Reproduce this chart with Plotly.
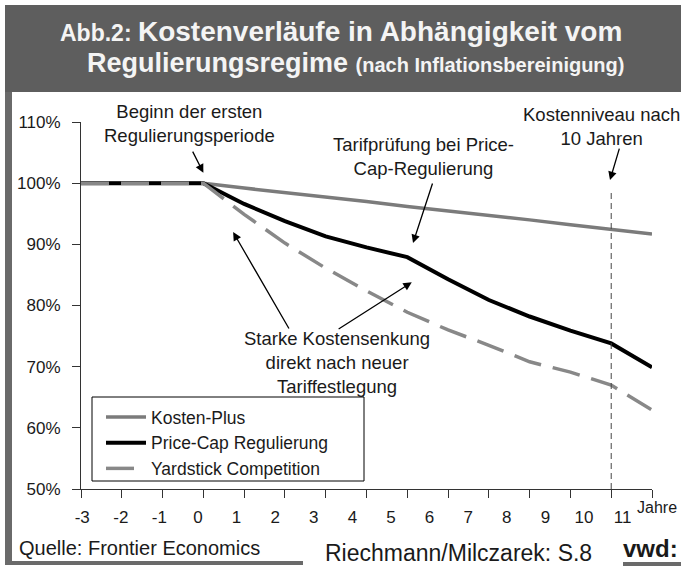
import plotly.graph_objects as go

# ---------------- data ----------------
years = list(range(-3, 12))
tick_text = [str(v) for v in years]
kosten_plus = [100, 100, 100, 100, 99.2, 98.5, 97.7, 97.0, 96.2, 95.5, 94.7, 94.0, 93.2, 92.5, 91.7]
price_cap = [100, 100, 100, 100, 96.6, 93.8, 91.3, 89.5, 87.9, 84.3, 80.9, 78.2, 75.9, 73.8, 69.9]
yardstick = [100, 100, 100, 100, 94.9, 90.2, 86.1, 82.4, 78.9, 76.0, 73.5, 70.8, 69.1, 67.0, 62.9]
y_ticks = [50, 60, 70, 80, 90, 100, 110]
y_tick_text = [f"{v}%" for v in y_ticks]
series_names = ["Kosten-Plus", "Price-Cap Regulierung", "Yardstick Competition"]
marker_year = 10
marker_top = 98.4

# ---------------- geometry helpers (pixel -> paper) ----------------
W, H = 681, 566
L, R, T, B = 81, 652, 122, 489


def px(x):
    return (x - L) / (R - L)


def py(y):
    return (B - y) / (B - T)


FONT = "Liberation Sans, Arial, Helvetica, sans-serif"
TXT = "#1a1a1a"

fig = go.Figure()
fig.add_trace(go.Scatter(x=years, y=kosten_plus, name=series_names[0], mode="lines",
                         line=dict(color="#7b7b7b", width=3.5), legendgroup="a"))
fig.add_trace(go.Scatter(x=years, y=price_cap, name=series_names[1], mode="lines",
                         line=dict(color="#000000", width=4), legendgroup="b"))
fig.add_trace(go.Scatter(x=years, y=yardstick, name=series_names[2], mode="lines",
                         line=dict(color="#888888", width=3.5, dash="28px,12px"), legendgroup="c"))
# empty helper trace to activate the label axis
fig.add_trace(go.Scatter(x=[], y=[], xaxis="x2", showlegend=False, hoverinfo="skip"))

shapes = [
    # title bar
    dict(type="rect", xref="paper", yref="paper", x0=px(5), x1=px(681), y0=py(92), y1=py(5),
         fillcolor="#5e5e5e", line=dict(width=0), layer="below"),
    # left frame
    dict(type="rect", xref="paper", yref="paper", x0=px(5), x1=px(12), y0=py(563), y1=py(92),
         fillcolor="#6a6a6a", line=dict(width=0), layer="below"),
    # bottom frame (left part)
    dict(type="rect", xref="paper", yref="paper", x0=px(5), x1=px(303), y0=py(565), y1=py(561),
         fillcolor="#6a6a6a", line=dict(width=0), layer="below"),
    # vwd underline
    dict(type="rect", xref="paper", yref="paper", x0=px(623), x1=px(681), y0=py(566), y1=py(562),
         fillcolor="#6a6a6a", line=dict(width=0), layer="below"),
    # legend frame
    dict(type="rect", xref="paper", yref="paper", x0=px(92), x1=px(364), y0=py(481), y1=py(397),
         fillcolor="#ffffff", line=dict(width=1, color="#000000"), layer="below"),
    # marker line after 10 years
    dict(type="line", xref="x", yref="y", x0=marker_year, x1=marker_year, y0=y_ticks[0], y1=marker_top,
         line=dict(color="#444444", width=1, dash="6px,4px")),
]

annotations = []


def text_ann(text, x, y, size, xanchor="center", color=TXT, bold=False, yanchor="middle"):
    annotations.append(dict(text=text, xref="paper", yref="paper", x=px(x), y=py(y), showarrow=False,
                            xanchor=xanchor, yanchor=yanchor, align="center",
                            font=dict(family=FONT, size=size, color=color,
                                      weight="bold" if bold else "normal")))


def arrow(hx, hy, tx, ty):
    annotations.append(dict(text="", x=hx, y=hy, ax=tx, ay=ty, xref="x", yref="y", axref="x", ayref="y",
                            showarrow=True, arrowhead=2, arrowsize=1.3, arrowwidth=1.3,
                            arrowcolor="#000000", standoff=0, startstandoff=0))


# title
text_ann("<span style='font-size:23px'>Abb.2: </span>Kostenverläufe in Abhängigkeit vom",
         341, 31, 28, color="#f4f4f4", bold=True)
text_ann("Regulierungsregime <span style='font-size:20px'>(nach Inflationsbereinigung)</span>",
         355, 63, 27, color="#f4f4f4", bold=True)

# callouts
text_ann("Beginn der ersten<br>Regulierungsperiode", 189, 124, 18.5)
text_ann("Tarifprüfung bei Price-<br>Cap-Regulierung", 423, 156, 18.5)
text_ann("Kostenniveau nach<br>10 Jahren", 601, 127, 18.5)
text_ann("Starke Kostensenkung<br>direkt nach neuer<br>Tariffestlegung", 337, 362, 18.5)

arrow(0.0, 101.7, -0.28, 105.4)
arrow(5.14, 90.2, 5.63, 100.2)
arrow(9.97, 100.5, 10.21, 105.9)
arrow(0.73, 92.0, 2.12, 76.0)
arrow(5.11, 83.8, 3.28, 76.0)

# axis unit and footer
text_ann("Jahre", 635, 507, 16, xanchor="left")
text_ann("Quelle: Frontier Economics", 17, 548, 20, xanchor="left")
text_ann("Riechmann/Milczarek: S.8", 323, 553, 23, xanchor="left")
text_ann("vwd:", 621, 548, 24, xanchor="left", bold=True)

fig.update_layout(
    width=W, height=H,
    margin=dict(l=L, r=W - R, t=T, b=H - B, pad=0),
    paper_bgcolor="#ffffff", plot_bgcolor="#ffffff",
    font=dict(family=FONT, size=17, color=TXT),
    showlegend=True,
    legend=dict(x=px(101), y=py(399), xanchor="left", yanchor="top", bgcolor="rgba(0,0,0,0)",
                borderwidth=0, font=dict(size=17.5, color=TXT),
                itemwidth=40, tracegroupgap=4, traceorder="normal"),
    xaxis=dict(range=[years[0], years[-1]], tickvals=years, showticklabels=False,
               ticks="outside", ticklen=8, tickcolor="#333333", tickwidth=1,
               showline=True, linecolor="#333333", linewidth=1, showgrid=False, zeroline=False,
               fixedrange=True),
    xaxis2=dict(overlaying="x", anchor="y", side="bottom", range=[-3.031, 11.762],
                tickvals=years, ticktext=tick_text, ticks="", showline=False, showgrid=False,
                zeroline=False, tickfont=dict(size=17, color=TXT), ticklabelstandoff=16),
    yaxis=dict(range=[y_ticks[0], y_ticks[-1]], tickvals=y_ticks, ticktext=y_tick_text,
               ticks="outside", ticklen=8, tickcolor="#333333", tickwidth=1,
               showline=True, linecolor="#333333", linewidth=1, showgrid=False, zeroline=False,
               tickfont=dict(size=17, color=TXT), ticklabelstandoff=8),
    shapes=shapes,
    annotations=annotations,
)

fig.write_html("out.html", config={"displayModeBar": False},
               post_script="document.body.style.margin='0';")
